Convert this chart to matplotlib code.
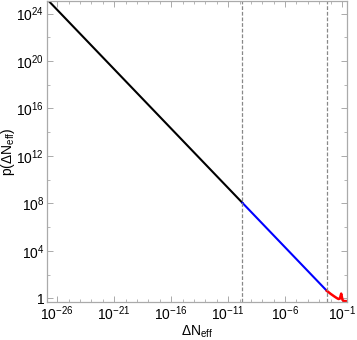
import numpy as np
import matplotlib
matplotlib.use("Agg")
import matplotlib.pyplot as plt
from matplotlib.ticker import FixedLocator, FuncFormatter

plt.rcParams['font.family'] = ['Liberation Sans', 'DejaVu Sans']
plt.rcParams['mathtext.fontset'] = 'custom'
plt.rcParams['mathtext.rm'] = 'Liberation Sans'
plt.rcParams['mathtext.it'] = 'Liberation Sans:italic'

# --- dados ---
black_x = [1.25e-27, 1.8e-10]
black_y = [1.6e25, 1.11e8]
blue_x = [1.8e-10, 4.6e-3]
blue_y = [1.11e8, 4.35]
red_x = [4.6e-3, 1e-2, 2e-2, 3.5e-2, 5e-2, 6.5e-2, 7.5e-2, 8.5e-2, 9.5e-2, 1.1e-1, 1.4e-1, 2e-1, 2.6e-1]
red_y = [4.35, 2.4, 1.5, 1.05, 0.87, 0.95, 1.6, 2.5, 1.5, 0.75, 0.6, 0.58, 0.58]
vlines_x = [1.8e-10, 4.6e-3]

xmaj = [1e-26, 1e-21, 1e-16, 1e-11, 1e-6, 1e-1]
ymaj = [1e0, 1e4, 1e8, 1e12, 1e16, 1e20, 1e24]

fig = plt.figure(figsize=(3.57, 3.40), dpi=100)
ax = fig.add_axes([0.1317, 0.1126, 0.839, 0.884])

ax.plot(black_x, black_y, color='black', lw=1.5)
ax.plot(blue_x, blue_y, color='#0000ff', lw=1.5)
ax.plot(red_x, red_y, color='#ff0000', lw=1.8)
for xv in vlines_x:
    ax.axvline(xv, color='#888888', lw=0.9, ls=(0, (3, 1.5)))

ax.set_xscale('log')
ax.set_yscale('log')
ax.set_xlim(1.25e-27, 0.25)
ax.set_ylim(0.52, 1.1e25)

ax.xaxis.set_major_locator(FixedLocator(xmaj))
ax.xaxis.set_minor_locator(FixedLocator([10.0 ** k for k in range(-27, 0)]))
ax.yaxis.set_major_locator(FixedLocator(ymaj))
ax.yaxis.set_minor_locator(FixedLocator([10.0 ** k for k in range(0, 26, 2)]))


def fmt(v, pos):
    e = int(round(np.log10(v)))
    if e == 0:
        return '1'
    return r'$10^{%d}$' % e


ax.xaxis.set_major_formatter(FuncFormatter(fmt))
ax.yaxis.set_major_formatter(FuncFormatter(fmt))
ax.xaxis.set_minor_formatter(FuncFormatter(lambda v, p: ''))
ax.yaxis.set_minor_formatter(FuncFormatter(lambda v, p: ''))

for s in ax.spines.values():
    s.set_color('#aaaaaa')
    s.set_linewidth(0.9)
ax.tick_params(which='both', direction='in', top=True, right=True,
               color='#aaaaaa', labelsize=10, pad=2)
ax.tick_params(which='major', length=4, width=0.7)
ax.tick_params(which='minor', length=2, width=0.6)

ax.set_xlabel(r'$\Delta \mathrm{N}_{\mathrm{eff}}$', fontsize=10)
ax.set_ylabel(r'$\mathrm{p}(\Delta \mathrm{N}_{\mathrm{eff}})$', fontsize=10)
ax.xaxis.set_label_coords(0.5, -0.072)
ax.yaxis.set_label_coords(-0.1, 0.5)

fig.savefig('out.png', dpi=100)
